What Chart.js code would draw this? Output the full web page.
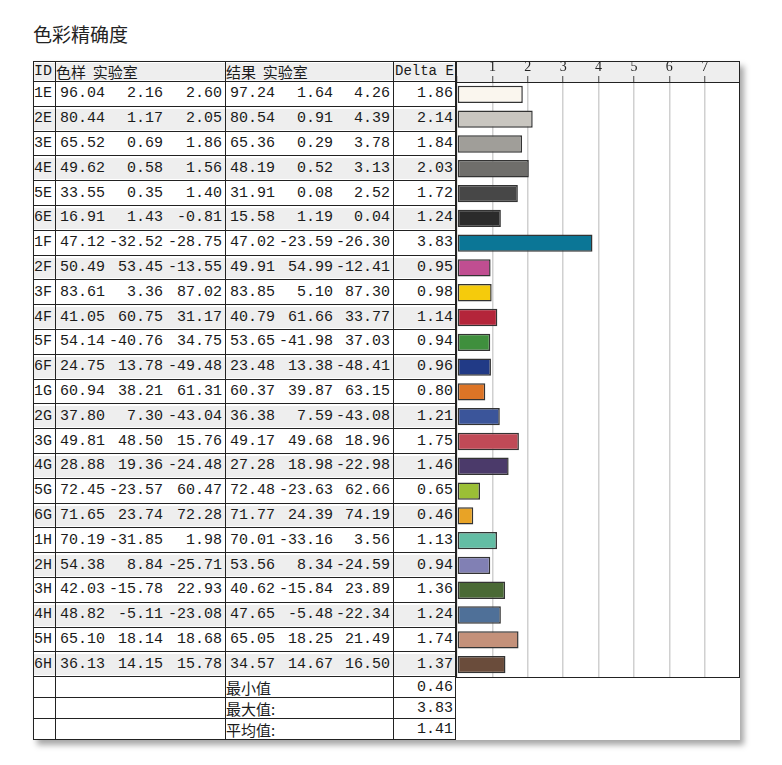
<!DOCTYPE html>
<html>
<head>
<meta charset="utf-8">
<script src="https://cdn.jsdelivr.net/npm/chart.js@4/dist/chart.umd.min.js"></script>
<style>
  body { margin: 0; background: #fff; }
  #title { position: absolute; left: 33px; top: 20px; font: 19px "Noto Sans CJK SC", sans-serif; color: #222; }
  #box { position: absolute; left: 33px; top: 61px; width: 707px; height: 679px; background: #fff;
         box-shadow: 4px 5px 6px rgba(0,0,0,0.35); }
  .row { position: absolute; left: 0; width: 423px; border-bottom: 1px solid #222; box-sizing: border-box; }
  .row .bg { position: absolute; left: 0; right: 0; top: 2px; bottom: 1px; }
  .cell { position: absolute; top: 0; bottom: 0; display: flex; align-items: center; white-space: pre;
          font: 15px "Liberation Mono", monospace; color: #1a1a1a; }
  .r { justify-content: flex-end; }
  .cjk { font-family: "Noto Sans CJK SC", sans-serif; font-size: 15px; }
  .vline { position: absolute; top: 0; width: 1px; background: #222; }
  #chartWrap { position: absolute; left: 424px; top: 0; width: 283px; }
  #chartHead { position: absolute; left: 423px; top: 0; width: 284px; height: 21px; background: #eee; }
  #chartFrame { position: absolute; left: 423px; top: 0; width: 284px;
                border: 1px solid #222; box-sizing: border-box; pointer-events: none; }
</style>
</head>
<body>
<div id="title">色彩精确度</div>
<div id="box">
  <div id="chartHead"></div>
  <div id="chartWrap"><canvas id="deChart"></canvas></div>
  <div id="chartFrame"></div>
</div>
<script>
const ids = ['1E','2E','3E','4E','5E','6E','1F','2F','3F','4F','5F','6F','1G','2G','3G','4G','5G','6G','1H','2H','3H','4H','5H','6H'];
const refL = [96.04,80.44,65.52,49.62,33.55,16.91,47.12,50.49,83.61,41.05,54.14,24.75,60.94,37.80,49.81,28.88,72.45,71.65,70.19,54.38,42.03,48.82,65.10,36.13];
const refA = [2.16,1.17,0.69,0.58,0.35,1.43,-32.52,53.45,3.36,60.75,-40.76,13.78,38.21,7.30,48.50,19.36,-23.57,23.74,-31.85,8.84,-15.78,-5.11,18.14,14.15];
const refB = [2.60,2.05,1.86,1.56,1.40,-0.81,-28.75,-13.55,87.02,31.17,34.75,-49.48,61.31,-43.04,15.76,-24.48,60.47,72.28,1.98,-25.71,22.93,-23.08,18.68,15.78];
const resL = [97.24,80.54,65.36,48.19,31.91,15.58,47.02,49.91,83.85,40.79,53.65,23.48,60.37,36.38,49.17,27.28,72.48,71.77,70.01,53.56,40.62,47.65,65.05,34.57];
const resA = [1.64,0.91,0.29,0.52,0.08,1.19,-23.59,54.99,5.10,61.66,-41.98,13.38,39.87,7.59,49.68,18.98,-23.63,24.39,-33.16,8.34,-15.84,-5.48,18.25,14.67];
const resB = [4.26,4.39,3.78,3.13,2.52,0.04,-26.30,-12.41,87.30,33.77,37.03,-48.41,63.15,-43.08,18.96,-22.98,62.66,74.19,3.56,-24.59,23.89,-22.34,21.49,16.50];
const deltaE = [1.86,2.14,1.84,2.03,1.72,1.24,3.83,0.95,0.98,1.14,0.94,0.96,0.80,1.21,1.75,1.46,0.65,0.46,1.13,0.94,1.36,1.24,1.74,1.37];
const patchColors = ['#faf6ee','#c9c6c0','#a09e99','#6f6e6b','#474747','#2b2b2b','#0b7696','#c04e91','#f5cb0c','#b4253a',
  '#3f8f3d','#213a86','#dc7426','#3b559a','#c04a57','#4b3a6a','#9bbf36','#e8a326','#63bda4','#8180b4',
  '#4a6a35','#4f7098','#c4917a','#6a4c3b'];
const summaryLabels = ['最小值','最大值:','平均值:'];
const summaryValues = ['0.46','3.83','1.41'];
const xTicks = ['','1','2','3','4','5','6','7',''];

const box = document.getElementById('box');
// column edges relative to box left (x=33 on page)
const cols = [0, 22, 75, 133, 192, 245, 303, 360, 423];
const headH = 21, rowH = 24.8, sumH = 21;

function addRow(top, h, cells, gray) {
  const row = document.createElement('div');
  row.className = 'row';
  row.style.top = top + 'px';
  row.style.height = h + 'px';
  if (gray) {
    const bg = document.createElement('div');
    bg.className = 'bg';
    bg.style.background = '#eeeeee';
    row.appendChild(bg);
  }
  cells.forEach(c => {
    const el = document.createElement('div');
    el.className = 'cell' + (c.right ? ' r' : '') + (c.cjk ? ' cjk' : '');
    el.style.left = (c.x0 + 1) + 'px';
    el.style.width = (c.x1 - c.x0 - 4) + 'px';
    if (c.size) el.style.fontSize = c.size + 'px';
    el.textContent = c.text;
    row.appendChild(el);
  });
  box.appendChild(row);
}

const f = v => v.toFixed(2);

addRow(0, headH, [
  {x0: cols[0], x1: cols[1], text: 'ID'},
  {x0: cols[1], x1: cols[4], text: '色样  实验室', cjk: true},
  {x0: cols[4], x1: cols[7], text: '结果  实验室', cjk: true},
  {x0: cols[7] + 1, x1: cols[8] + 2, text: 'Delta E', size: 14}
], true);

ids.forEach((id, i) => {
  addRow(headH + i * rowH, rowH, [
    {x0: cols[0], x1: cols[1], text: id},
    {x0: cols[1], x1: cols[2], text: f(refL[i]), right: true},
    {x0: cols[2], x1: cols[3], text: f(refA[i]), right: true},
    {x0: cols[3], x1: cols[4], text: f(refB[i]), right: true},
    {x0: cols[4], x1: cols[5], text: f(resL[i]), right: true},
    {x0: cols[5], x1: cols[6], text: f(resA[i]), right: true},
    {x0: cols[6], x1: cols[7], text: f(resB[i]), right: true},
    {x0: cols[7], x1: cols[8], text: f(deltaE[i]), right: true}
  ], i % 2 === 1);
});

const sumTop = headH + ids.length * rowH;
summaryLabels.forEach((lab, i) => {
  addRow(sumTop + i * sumH, sumH, [
    {x0: cols[4], x1: cols[7], text: lab, cjk: true},
    {x0: cols[7], x1: cols[8], text: summaryValues[i], right: true}
  ], false);
});

// vertical lines and frame of the table
const tableH = sumTop + summaryLabels.length * sumH;
[0, 1, 4, 7, 8].forEach(k => {
  const v = document.createElement('div');
  v.className = 'vline';
  v.style.left = (cols[k] - (k === 8 ? 1 : 0)) + 'px';
  v.style.height = tableH + 'px';
  box.appendChild(v);
});
const topLine = document.createElement('div');
topLine.style.cssText = 'position:absolute;left:0;top:0;width:423px;height:1px;background:#222';
box.appendChild(topLine);

const chartH = Math.round(sumTop);
const wrap = document.getElementById('chartWrap');
wrap.style.height = chartH + 'px';
document.getElementById('chartFrame').style.height = (chartH + 1) + 'px';
const cv = document.getElementById('deChart');
cv.width = 283;
cv.height = chartH;
cv.style.width = '283px';
cv.style.height = chartH + 'px';

new Chart(cv, {
  type: 'bar',
  data: {
    labels: ids,
    datasets: [{
      data: deltaE,
      backgroundColor: patchColors,
      borderColor: '#333',
      borderWidth: 1.5,
      borderSkipped: false,
      barPercentage: 0.7,
      categoryPercentage: 1
    }]
  },
  options: {
    indexAxis: 'y',
    responsive: false,
    maintainAspectRatio: false,
    animation: false,
    devicePixelRatio: 1,
    layout: { padding: 0 },
    plugins: { legend: { display: false }, tooltip: { enabled: false } },
    scales: {
      x: {
        position: 'top',
        min: 0,
        max: 8,
        ticks: {
          stepSize: 1,
          padding: 0,
          color: '#222',
          font: { family: 'Liberation Serif', size: 14 },
          callback: (v, i) => xTicks[i]
        },
        grid: { color: '#d0d0d0', lineWidth: 1.5, tickLength: 6, tickColor: '#444', tickWidth: 1 },
        border: { display: true, color: '#222', width: 1 },
        afterFit: s => { s.height = headH; }
      },
      y: { display: false }
    }
  }
});
</script>
</body>
</html>
